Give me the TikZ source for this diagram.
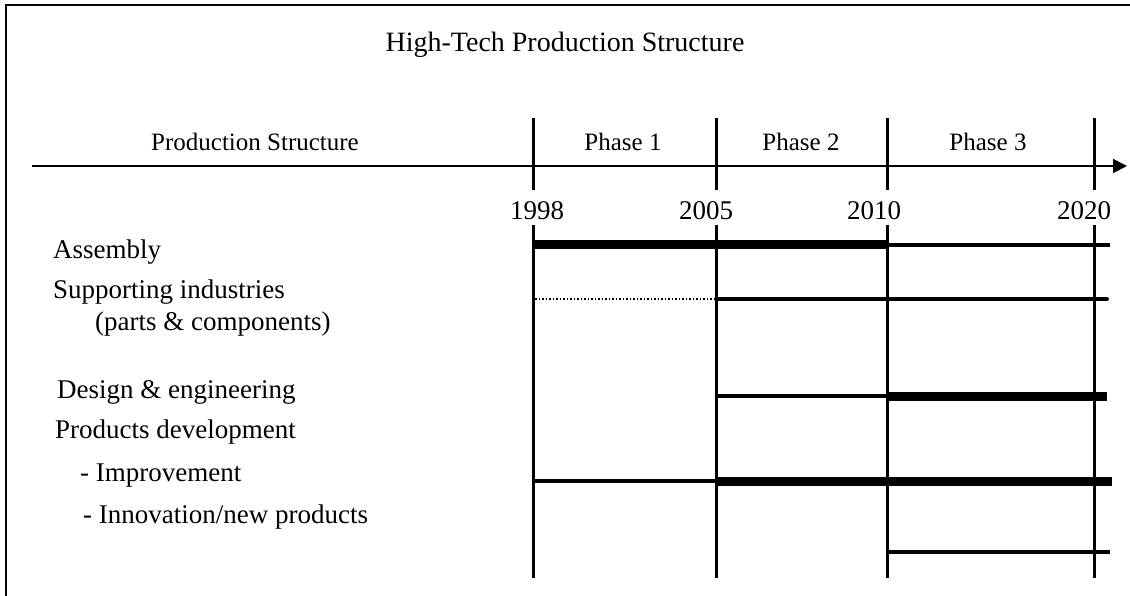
\documentclass[tikz,border=0pt]{standalone}
\usepackage{fontspec}
\setmainfont{Liberation Serif}
\usetikzlibrary{arrows.meta}
\begin{document}
\begin{tikzpicture}[x=1pt,y=-1pt,
  txt/.style={font=\fontsize{27}{31}\selectfont, inner sep=0pt},
  hdrtxt/.style={font=\fontsize{25}{29}\selectfont, inner sep=0pt},
  rowlbl/.style={txt, anchor=west},
  yearlbl/.style={txt, anchor=base},
  frame/.style={line width=2.5pt},
  gridline/.style={line width=3pt},
  axisline/.style={line width=2pt, -{Triangle[length=14pt,width=14pt]}},
  heavy/.style={line width=9pt},
  light/.style={line width=4pt},
  faint/.style={line width=1.5pt, dotted},
]
\useasboundingbox (0,0) rectangle (1130,596);

% open frame: top and left edges
\draw[frame] (6,596) -- (6,5) -- (1130,5);

% title
\node[font=\fontsize{28}{32}\selectfont, inner sep=0pt] (title) at (565,45) {High-Tech Production Structure};

% header row
\node[hdrtxt] (hdr)    at (255,142) {Production Structure};
\node[hdrtxt] (phase1) at (623,142) {Phase 1};
\node[hdrtxt] (phase2) at (801,142) {Phase 2};
\node[hdrtxt] (phase3) at (988,142) {Phase 3};

% time axis
\coordinate (axL) at (32,166);
\coordinate (axR) at (1127,166);
\draw[axisline] (axL) -- (axR);

% year columns: tick through the axis, label, and long guide line
\foreach \n/\x in {a/533, b/716, c/887, d/1094}{
  \coordinate (tt\n) at (\x,118);
  \coordinate (tb\n) at (\x,190);
  \coordinate (gt\n) at (\x,225);
  \coordinate (gb\n) at (\x,578);
  \draw[gridline] (tt\n) -- (tb\n);
  \draw[gridline] (gt\n) -- (gb\n);
}
\node[yearlbl] (y1998) at (537,220) {1998};
\node[yearlbl] (y2005) at (706,220) {2005};
\node[yearlbl] (y2010) at (874,220) {2010};
\node[yearlbl] (y2020) at (1084,220) {2020};

% row labels
\node[rowlbl] (asm)   at (53,252) {Assembly};
\node[rowlbl] (sup)   at (53,292) {Supporting industries};
\node[rowlbl] (parts) at (95,324) {(parts \& components)};
\node[rowlbl] (des)   at (57,392) {Design \& engineering};
\node[rowlbl] (prod)  at (55,432) {Products development};
\node[rowlbl] (impr)  at (80,476) {- Improvement};
\node[rowlbl] (innov) at (83,517) {- Innovation/new products};

% Assembly
\coordinate (asm0) at (533,245);
\coordinate (asm1) at (887,245);
\coordinate (asm2) at (1110,245);
\draw[heavy] (asm0) -- (asm1);
\draw[light] (asm1) -- (asm2);

% Supporting industries
\coordinate (sup0) at (535,299);
\coordinate (sup1) at (716,299);
\coordinate (sup2) at (1107,299);
\draw[faint] (sup0) -- (sup1);
\draw[light, line cap=round] (sup1) -- (sup2);

% Design & engineering
\coordinate (des0) at (717,396);
\coordinate (des1) at (887,396);
\coordinate (des2) at (1107,396);
\draw[light] (des0) -- (des1);
\draw[heavy] (des1) -- (des2);

% Improvement
\coordinate (imp0) at (535,481);
\coordinate (imp1) at (717,481);
\coordinate (imp2) at (1112,481);
\draw[light] (imp0) -- (imp1);
\draw[heavy] (imp1) -- (imp2);

% Innovation / new products
\coordinate (inn0) at (888,552);
\coordinate (inn1) at (1110,552);
\draw[light] (inn0) -- (inn1);
\end{tikzpicture}
\end{document}
